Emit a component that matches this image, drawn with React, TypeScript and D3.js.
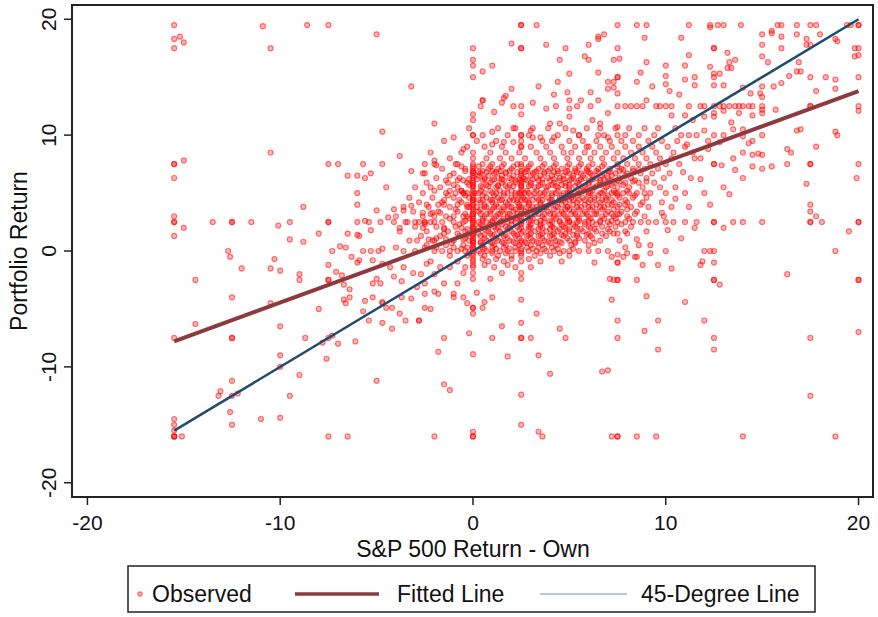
import React from "react";
import * as d3 from "d3";

const W = 878;
const H = 617;

const xTicks = [-20, -10, 0, 10, 20];
const yTicks = [-20, -10, 0, 10, 20];

// regression line and 45-degree reference, endpoints
const fittedX = [-15.5, 20];
const fittedY = [-7.8, 13.8];
const diagX = [-15.5, 20];
const diagY = [-15.5, 20];

// scattered observations outside the dense core
const sparsePoints: [number, number][] = [
  [-15.5, 19.5], [-15.2, 18.5], [-15.5, 18.3], [-15.0, 18.0], [-15.5, 17.5], [-10.9, 19.4], [-10.5, 17.5],
  [-8.6, 19.5], [-7.5, 19.5], [-10.5, 8.5], [-15.5, 7.5], [-15.5, 7.5], [-15.0, 7.8], [-15.5, 6.3],
  [-7.5, 7.5], [-7.0, 7.5], [-6.5, 6.5], [-6.0, 6.5], [-6.0, 5.0], [-6.0, 4.0], [-15.5, 3.0], [-15.5, 2.5],
  [-15.5, 2.5], [-15.0, 2.0], [-15.5, 1.3], [-13.5, 2.5], [-12.5, 2.5], [-12.5, 2.5], [-11.5, 2.5],
  [-10.1, 2.2], [-9.5, 2.5], [-8.8, 3.8], [-7.5, 2.5], [-7.5, 2.5], [-6.0, 2.5], [-8.0, 1.5], [-6.5, 1.5],
  [-6.0, 1.4], [-9.5, 1.0], [-8.8, 0.8], [-6.9, 0.4], [-6.6, 0.3], [-7.3, 0.0], [-6.3, -0.5], [-12.7, 0],
  [-12.6, -0.5], [-10.3, -0.7],
  [-12.0, -1.5], [-10.5, -1.5], [-10.0, -1.7], [-9.0, -2.0], [-9.0, -2.5], [-7.5, -1.2], [-7.5, -2.5],
  [-7.5, -2.5], [-7.1, -1.8], [-6.8, -2.1], [-6.7, -2.9], [-6.4, -3.3], [-6.7, -4.2], [-6.6, -4.5],
  [-6.4, -4.0], [-6.0, -1.0], [-14.4, -2.5], [-12.5, -4.0], [-10.5, -4.5], [-8.0, -5.0], [-14.4, -6.3],
  [-15.5, -7.5], [-12.5, -7.5], [-12.5, -7.5], [-10.0, -6.5], [-8.7, -7.5], [-7.5, -7.5], [-7.3, -7.3],
  [-7.8, -7.9], [-7.0, -8.0], [-6.1, -7.8], [-10.0, -9.0], [-7.6, -9.3], [-10.0, -10.0], [-9.0, -10.7],
  [-12.5, -11.2], [-13.1, -12.1], [-13.2, -12.5], [-12.5, -12.5], [-12.2, -12.3], [-9.5, -12.5],
  [-12.6, -13.9], [-15.5, -14.5], [-15.5, -15.0], [-12.5, -15.0], [-11.0, -14.5], [-10.0, -14.4],
  [-15.5, -15.5], [-15.5, -16], [-15.5, -16], [-15.5, -16], [-15.1, -16], [-7.5, -16], [-6.5, -16],
  [-5.0, 18.7], [-3.2, 14.2], [-4.7, 10.3], [-3.8, 8.2], [-2.0, 11.0], [2.5, 19.5], [2.5, 19.5], [3.3, 19.5],
  [2.5, 17.5], [2.5, 17.5], [2.0, 17.9], [3.8, 17.8], [4.8, 17.5], [4.5, 16.5], [5.0, 15.3], [6.0, 17.8],
  [5.8, 16.8], [6.0, 16.5], [6.5, 18.5], [6.5, 18.3], [6.8, 18.7], [7.5, 19.5], [7.5, 17.5], [7.6, 16.6],
  [0.0, 17.5], [0.0, 16.5], [0.0, 16.0], [0.0, 15.0], [0.5, 15.5], [1.0, 16.0], [2.0, 14.0], [1.6, 13.2],
  [1.5, 12.8], [1.7, 13.4], [0.5, 13.0], [0.5, 13.0], [0.4, 12.5], [1.1, 12.0], [0.0, 11.8], [0.0, 11.3],
  [2.1, 12.5], [2.5, 12.5], [2.5, 11.8], [3.1, 12.8], [3.4, 14.2], [4.2, 13.5], [4.4, 14.6], [4.9, 13.7],
  [5.0, 13.0], [3.8, 12.3], [4.3, 12.5], [5.0, 12.3], [5.0, 11.6], [4.0, 11.0], [4.5, 11.0], [5.4, 12.5],
  [5.6, 13.0], [6.1, 12.5], [6.1, 13.7], [6.5, 13.0], [7.0, 14.0], [7.3, 14.6], [7.5, 15.0], [6.5, 15.4],
  [7.5, 12.5], [7.0, 11.9], [6.2, 11.3], [6.6, 11.0], [7.5, 10.7], [2.1, 10.6], [2.5, 10.0], [2.5, 10.0],
  [3.0, 10.4], [3.1, 9.8], [0.0, 10.0], [0.0, 10.0], [1.0, 10.3], [1.0, 9.2], [1.6, 9.4], [2.1, 9.4],
  [2.5, 9.0], [3.5, 9.8], [4.2, 9.8], [5.2, 10.4], [5.5, 10.0], [5.5, 10.0], [6.0, 9.0], [6.5, 10.0],
  [7.0, 9.8], [7.5, 10.0], [-0.5, 8.8], [-1.0, 9.8], [-2.0, 7.8], [-1.9, 7.4], [-2.5, 7.5], [-2.5, 6.7],
  [-3.2, 6.9], [-0.9, 7.5], [-1.4, 6.1], [-0.8, 6.1], [-2.2, 5.5], [-4.7, 7.5], [-5.3, 6.7], [-5.7, 7.5],
  [-5.6, 6.3], [-4.5, 5.5], [-5.0, 3.5], [-4.1, 3.6], [-3.6, 3.5], [-3.2, 3.9], [-5.6, 2.6], [-5.4, 2.5],
  [-4.8, 2.5], [-4.4, 2.9], [-4.1, 2.5], [-3.8, 2.0], [-3.5, 2.5], [-3.0, 2.5], [-2.6, 3.3], [-2.5, 2.5],
  [-2.5, 2.5], [-2.1, 3.3], [-2.0, 2.5], [-1.7, 3.3], [-1.5, 4.4], [-0.9, 5.0], [-0.5, 5.0], [-5.9, 1.3],
  [-5.3, 1.8], [-4.0, 0.3], [-5.3, 0], [-4.9, 0], [-4.7, 0.2], [-5.7, 0], [-3.6, 0], [-3.0, 0], [-2.5, 0.3],
  [-2.9, 0.9], [-2.1, 0.9], [-1.5, 1.5], [-1.2, 0],
  [8.5, 19.5], [9.0, 19.5], [11.2, 19.5], [12.3, 19.5], [12.7, 19.5], [13.0, 19.5], [13.9, 19.5],
  [15.8, 19.5], [16.0, 19.5], [16.8, 19.5], [17.5, 19.5], [17.8, 19.5], [19.4, 19.5], [19.6, 19.5],
  [20, 19.5], [20, 19.5], [8.9, 18.4], [10.8, 18.4], [12.3, 19.3], [15.0, 18.7], [15.5, 19.0], [15.5, 18.8],
  [16.0, 18.5], [16.8, 18.7], [18.0, 18.7], [17.3, 18.3], [18.8, 18.3], [18.9, 18.1], [15.0, 17.8],
  [16.0, 17.5], [17.3, 17.8], [17.5, 17.8], [19.8, 17.5], [20.0, 17.5], [19.8, 16.8], [20.0, 16.9],
  [12.5, 17.5], [12.5, 17.5], [13.2, 17.1], [13.3, 16.3], [13.6, 16.5], [13.2, 15.8], [13.4, 15.8],
  [12.3, 15.9], [15.0, 16.8], [15.3, 16.3], [16.9, 16.3], [17.0, 15.5], [16.8, 15.5], [16.4, 15.1],
  [17.5, 15.0], [18.3, 15.0], [18.8, 14.8], [20.0, 15.0], [7.3, 16.5], [9.0, 16.3], [10.0, 16.0],
  [11.0, 16.0], [11.2, 16.9], [7.5, 15.0], [8.7, 15.4], [8.5, 14.6], [10.0, 15.1], [10.0, 14.4],
  [11.0, 14.8], [11.5, 15.0], [11.5, 14.3], [12.5, 15.3], [12.8, 15.3], [12.5, 15.0], [12.5, 14.3],
  [13.0, 14.3], [14.0, 14.1], [7.0, 14.6], [7.3, 14.1], [7.5, 13.6], [9.3, 14.2], [10.2, 13.8], [10.7, 13.5],
  [15.0, 14.2], [15.6, 14.2], [16.0, 14.5], [17.8, 13.8], [18.8, 14.0], [14.4, 13.6], [14.9, 13.6],
  [15.0, 13.3], [9.0, 13.0],
  [7.9, 12.5], [8.2, 12.5], [8.5, 12.5], [8.8, 12.5], [9.5, 12.5], [9.7, 12.5], [10.0, 12.5], [10.3, 12.5],
  [11.2, 12.5], [11.8, 12.5], [12.0, 12.5], [12.5, 12.5], [12.8, 12.5], [13.0, 12.5], [13.3, 12.5],
  [13.6, 12.5], [13.8, 12.5], [14.0, 12.5], [14.3, 12.5], [14.5, 12.5], [15.0, 12.5], [17.5, 12.5],
  [17.5, 12.5], [20.0, 12.5],
  [20.0, 12.1], [15.7, 12.2], [15.0, 12.2], [15.0, 11.9], [12.5, 11.9], [12.5, 11.6], [13.0, 12.1],
  [13.8, 11.9], [14.5, 11.7], [10.3, 11.7], [11.0, 11.7], [11.4, 11.3], [12.0, 11.6], [16.8, 10.4],
  [17.0, 10.5], [18.8, 10.3], [18.9, 10.0], [13.5, 10.5], [14.0, 10.5], [14.0, 9.9], [14.3, 9.3],
  [14.5, 9.5], [15.0, 10.0], [13.0, 10.0], [12.5, 10.0], [12.0, 10.4], [11.2, 10.0], [16.3, 8.8],
  [16.5, 8.5], [17.8, 9.0], [14.5, 8.3], [14.8, 8.4], [15.0, 8.3], [14.0, 8.5], [13.5, 8.0], [12.5, 7.5],
  [12.5, 7.5], [12.9, 7.4], [14.5, 7.3], [15.0, 7.1], [15.5, 7.3], [16.3, 7.5], [17.5, 7.5], [17.5, 7.5],
  [20.0, 7.5], [17.3, 5.8], [19.9, 6.3], [14.0, 6.3], [13.3, 4.9], [17.5, 4.0], [17.5, 3.4], [17.8, 3.0],
  [13.5, 2.5], [14.0, 2.5], [15.0, 2.5], [17.5, 2.5], [17.5, 2.5], [18.1, 2.5], [20.0, 2.5], [20.0, 2.5],
  [12.5, 2.5], [12.5, 2.5], [13.0, 2.0], [19.5, 1.7], [18.8, 0.0], [12.0, 0.0], [12.3, 0.0], [12.5, 0.0],
  [8.5, 1.0], [9.2, 0.5], [10.1, 1.8], [10.8, 1.1], [11.5, 2.0], [9.8, 3.3], [11.2, 3.8], [10.5, 4.5],
  [12.0, 5.0], [11.8, 6.2], [12.3, 4.0], [13.0, 5.5], [12.2, 8.8], [11.5, 8.0], [13.6, 7.0], [10.9, 6.8],
  [12.8, 9.4], [11.1, 9.2], [13.4, 11.1],
  [10.0, 0.0], [7.9, 0.3], [8.6, 0.5], [7.5, -0.3], [7.2, -0.5], [7.8, -0.5], [8.0, -0.2], [8.4, -0.5],
  [8.5, -0.5], [9.2, -0.2], [7.5, -1.0], [7.5, -1.0], [8.8, -1.2], [9.6, -1.2], [10.3, -1.5], [11.8, -1.2],
  [11.9, -0.9], [12.5, -1.0], [16.3, -2.0], [7.3, -2.5], [7.5, -2.5], [7.5, -2.5], [8.5, -2.5], [12.5, -2.5],
  [12.5, -2.5], [12.8, -2.9], [20, -2.5], [20, -2.5], [7.2, -4.2], [9.0, -3.9], [11.0, -4.4], [7.5, -6.0],
  [9.6, -6.0], [12.0, -6.0], [8.9, -6.9], [7.5, -7.5], [12.5, -7.5], [17.5, -7.5], [20.0, -7.0], [9.6, -8.5],
  [12.5, -8.5], [6.7, -10.4], [7.0, -10.3], [17.5, -12.5], [7.2, -16], [7.5, -16], [7.5, -16], [8.5, -16],
  [9.5, -16], [14.0, -16], [18.8, -16],
  [0, -4.9], [0, -4.9], [0, -5.4], [0, -8.9], [-0.2, -7.1], [0.5, -4.9], [-0.3, -4.5], [0.2, -3.6],
  [0.6, -4.4], [1.0, -4.0], [2.5, -4.2], [2.5, -6.2], [2.5, -7.5], [2.5, -7.5], [3.0, -7.5], [1.0, -7.5],
  [1.5, -6.5], [1.8, -9.1], [3.3, -5.4], [3.4, -9.0], [4.0, -10.6], [4.5, -6.7], [4.8, -7.5], [2.5, -12.4],
  [2.5, -15.0], [0, -15.6], [0, -16], [0, -16], [3.4, -15.6], [3.6, -16], [-2.0, -16], [-1.5, -7.5],
  [-1.8, -8.7], [-1.5, -11.5], [-1.2, -12.0], [-5.0, -11.2], [6.3, -1.0], [7.1, -2.4],
  [-5.6, -4.3], [-4.7, -4.4], [-4.7, -4.5], [-5.7, -5.2], [-5.4, -6.0], [-4.7, -6.2], [-4.2, -6.7],
  [-4.5, -4.9], [-4.2, -4.9], [-3.8, -5.4], [-3.5, -6.0], [-2.8, -6.0], [-2.8, -6.0], [-2.5, -4.9],
  [-2.2, -5.0], [-3.2, -4.1], [-3.7, -4.0], [-2.5, -3.7], [-2.0, -3.5], [-1.8, -3.7], [-1.0, -3.7],
  [-1.0, -4.0], [-0.5, -4.0], [-5.2, -4.0], [-5.2, -2.8], [-4.8, -2.8], [-5.0, -2.4], [-4.1, -2.2],
  [-3.7, -2.6], [-2.9, -3.1], [-2.7, -2.0], [-2.5, -2.8], [-2.0, -2.0], [-2.4, -1.1], [-3.1, -1.9],
  [-3.6, -1.4], [-4.3, -1.4], [-4.7, -1.1], [-5.2, -0.8], [-5.9, -0.8], [-1.7, -1.4], [-1.2, -1.4],
  [-1.5, -2.8], [-0.5, -1.9], [-0.8, -2.8],
];

// the fringes just left and right of the solid centre
const shoulderPoints: [number, number][] = [
  [-2.0, 5.2], [-1.2, 5.2], [-0.6, 5.2], [-2.4, 4.0], [-1.5, 4.0], [-0.8, 4.0], [-2.0, 3.0], [-1.0, 3.0],
  [-0.3, 3.0], [-2.6, 2.0], [-1.5, 2.0], [-0.6, 2.0], [-2.3, 1.0], [-1.4, 1.0], [-0.5, 1.0], [-1.9, 0.3],
  [-1.0, 0.3], [7.8, 7.0], [8.6, 7.0], [7.6, 6.0], [8.3, 6.0], [9.0, 6.0], [7.4, 5.0], [8.1, 5.0], [8.9, 5.0],
  [7.2, 4.0], [7.9, 4.0], [8.7, 4.0], [7.6, 3.2], [8.4, 3.2], [7.3, 1.5], [8.0, 1.5],
];

// body of the cloud, row by row (y value, then the x values in that row)
const coreRowY = [
  10.6, 10.0, 9.5, 9.0, 8.5, 8.0, 7.5, 7.1, 6.7, 6.3, 5.9, 5.5, 5.0, 4.6, 4.2, 3.8, 3.4, 3.0, 2.5, 2.1,
  1.7, 1.3, 0.9, 0.5, 0.0, -0.4, -0.9, -1.4, -1.9, -2.4,
];
const coreRowX = [
  [-0.2, 1.3, 2.2, 3.1, 3.9, 4.8, 5.9, 6.6, 7.4, 8.1, 8.9, 9.6, 10.5],
  [0.5, 1.8, 2.9, 4.4, 6.8, 7.9, 8.6, 9.4, 10.8, 11.6],
  [-1.5, 0.2, 1.2, 2.5, 3.6, 4.1, 5.0, 5.7, 6.4, 7.1, 7.7, 8.3, 9.1, 9.8, 10.6, 12.2],
  [-0.3, 0.6, 1.5, 2.5, 3.0, 3.8, 4.6, 5.3, 5.9, 6.6, 7.2, 7.9, 8.6, 9.3, 10.1, 11.0],
  [-2.2, -0.6, 0.0, 0.9, 1.7, 2.4, 3.3, 4.0, 4.7, 5.1, 5.8, 6.3, 6.9, 7.5, 8.2, 8.8, 9.5, 10.4, 11.4],
  [-1.2, 0.0, 0.7, 1.4, 2.0, 2.7, 3.5, 4.2, 4.9, 5.5, 6.1, 6.7, 7.3, 7.8, 8.4, 9.0, 9.7, 10.3, 11.8],
  [-2.0, -0.8, 0.0, 0.5, 1.0, 1.6, 2.3, 2.5, 3.0, 3.7, 4.3, 5.0, 5.6, 6.2, 6.8, 7.5, 8.0, 8.6, 9.2, 10.0, 10.7],
  [-1.6, -0.4, 0.0, 0.8, 1.3, 2.0, 2.8, 3.4, 4.0, 4.6, 5.3, 5.9, 6.5, 7.1, 7.7, 8.3, 8.9, 9.6],
  [-2.6, -1.0, 0.0, 0.4, 1.1, 1.7, 2.5, 3.1, 3.7, 4.4, 5.0, 5.6, 6.1, 6.8, 7.4, 8.0, 8.7, 9.3, 10.2],
  [-1.9, -0.7, 0.0, 0.6, 1.3, 1.9, 2.6, 3.3, 3.9, 4.5, 5.2, 5.8, 6.4, 7.0, 7.6, 8.2, 9.0, 9.9, 11.3],
  [-2.4, -1.3, -0.3, 0.0, 0.9, 1.5, 2.2, 2.5, 3.0, 3.6, 4.2, 4.8, 5.4, 6.0, 6.6, 7.3, 7.9, 8.6, 9.4],
  [-3.0, -1.7, -0.8, 0.0, 0.5, 1.2, 1.8, 2.5, 3.2, 3.8, 4.4, 5.0, 5.7, 6.3, 6.9, 7.5, 8.1, 8.8, 9.7, 10.5],
  [-2.6, -1.4, -0.5, 0.0, 0.3, 1.0, 1.6, 2.2, 2.5, 2.9, 3.5, 4.1, 4.7, 5.0, 5.3, 6.0, 6.6, 7.2, 7.5, 7.8, 8.5, 9.2, 10.0, 11.0],
  [-3.3, -2.1, -1.0, -0.2, 0.0, 0.7, 1.3, 2.0, 2.6, 3.3, 3.9, 4.5, 5.1, 5.7, 6.3, 6.9, 7.6, 8.3, 9.0],
  [-2.8, -1.6, -0.6, 0.0, 0.4, 1.0, 1.7, 2.3, 2.9, 3.5, 4.1, 4.8, 5.4, 6.0, 6.6, 7.3, 8.0, 8.8, 9.8],
  [-3.6, -2.3, -1.2, -0.3, 0.0, 0.6, 1.3, 1.9, 2.5, 3.1, 3.7, 4.3, 4.9, 5.6, 6.2, 6.8, 7.5, 8.2, 9.1, 10.3],
  [-3.1, -1.8, -0.8, 0.0, 0.3, 0.9, 1.5, 2.1, 2.7, 3.3, 3.9, 4.6, 5.2, 5.8, 6.4, 7.0, 7.7, 8.5],
  [-4.0, -2.6, -1.4, -0.5, 0.0, 0.6, 1.2, 1.8, 2.4, 3.0, 3.6, 4.2, 4.8, 5.4, 6.0, 6.7, 7.3, 8.0, 8.9, 9.9],
  [-3.4, -2.8, -2.2, -1.6, -1.0, -0.5, 0.0, 0.3, 0.7, 1.0, 1.4, 1.8, 2.2, 2.5, 2.9, 3.3, 3.7, 4.1, 4.5, 4.9, 5.0, 5.4, 5.8, 6.2, 6.6, 7.0, 7.5, 7.9, 8.3, 8.7, 9.1, 9.5, 10.0, 10.4, 11.0, 11.6],
  [-3.0, -1.9, -0.9, 0.0, 0.5, 1.1, 1.7, 2.3, 2.9, 3.5, 4.1, 4.7, 5.3, 6.0, 6.7, 7.4, 8.2],
  [-3.8, -2.4, -1.3, -0.4, 0.0, 0.8, 1.4, 2.0, 2.6, 3.2, 3.8, 4.4, 5.0, 5.7, 6.4, 7.1, 7.9, 9.0],
  [-2.7, -1.7, -0.7, 0.0, 0.4, 1.0, 1.6, 2.2, 2.8, 3.4, 4.0, 4.7, 5.4, 6.1, 6.9],
  [-3.3, -2.0, -1.0, -0.2, 0.0, 0.7, 1.3, 1.9, 2.5, 3.1, 3.7, 4.3, 5.0, 5.8, 6.6, 7.6],
  [-2.4, -1.4, -0.5, 0.0, 0.5, 1.1, 1.7, 2.4, 3.0, 3.6, 4.3, 5.1, 6.0],
  [-2.0, -1.6, -0.8, -0.4, 0.0, 0.3, 0.7, 1.0, 1.4, 1.8, 2.2, 2.5, 2.9, 3.3, 3.8, 4.2, 4.7, 5.0, 5.5, 6.0, 6.5, 7.0],
  [-1.2, -0.3, 0.0, 0.6, 1.3, 2.0, 2.5, 3.2, 4.0, 5.0],
  [-2.2, -0.8, 0.0, 0.8, 1.6, 2.5, 3.5, 4.6],
  [-0.4, 0.0, 1.1, 2.2, 3.0],
  [0.0, 1.5, 2.5],
  [0.0, 0.9, 2.5],
];

// the solid centre of the cloud, offset rows that overlap the ones above
const denseRowY = [
  7.3, 6.9, 6.5, 6.1, 5.7, 5.2, 4.8, 4.4, 4.0, 3.6, 3.2, 2.8, 2.3, 1.9, 1.5, 1.1, 0.7, 0.2, -0.2, -0.7, -1.2,
];
const denseRowX = [
  [-0.6, 0.0, 0.3, 0.9, 1.5, 2.1, 2.5, 2.9, 3.6, 4.2, 4.9, 5.5, 6.0, 6.7, 7.5],
  [-0.4, 0.0, 0.5, 1.0, 1.4, 1.9, 2.5, 2.8, 3.3, 3.9, 4.4, 4.9, 5.3, 5.9, 6.4, 7.0, 7.6, 8.3],
  [-1.2, 0.0, 0.3, 0.8, 1.5, 2.1, 2.5, 3.0, 3.5, 4.1, 4.7, 5.2, 5.7, 6.2, 6.7, 7.2, 7.9],
  [-0.5, 0.0, 0.5, 1.0, 1.6, 2.2, 2.5, 2.8, 3.4, 4.0, 4.5, 5.0, 5.5, 6.1, 6.6, 7.1, 7.5, 8.4],
  [-1.0, -0.2, 0.0, 0.7, 1.3, 1.9, 2.5, 3.0, 3.5, 4.1, 4.6, 5.0, 5.5, 6.0, 6.6, 7.2, 7.8],
  [-0.6, 0.0, 0.4, 0.9, 1.4, 2.0, 2.5, 2.8, 3.3, 3.8, 4.4, 5.0, 5.6, 6.2, 6.8, 7.3, 8.0],
  [-1.3, -0.4, 0.0, 0.5, 1.1, 1.6, 2.2, 2.5, 3.0, 3.6, 4.1, 4.6, 5.0, 5.4, 6.0, 6.5, 7.0, 7.5, 8.4],
  [-0.7, 0.0, 0.3, 0.9, 1.5, 2.1, 2.5, 2.8, 3.4, 4.0, 4.5, 5.0, 5.5, 6.1, 6.7, 7.2, 7.9],
  [-1.8, -0.3, 0.0, 0.6, 1.2, 1.8, 2.4, 2.9, 3.5, 4.0, 4.6, 5.2, 5.8, 6.4, 7.0, 7.6],
  [-0.9, 0.0, 0.4, 1.0, 1.6, 2.2, 2.5, 3.0, 3.6, 4.2, 4.8, 5.0, 5.5, 6.1, 6.7, 7.3, 8.0],
  [-2.2, -0.4, 0.0, 0.7, 1.3, 1.9, 2.5, 2.8, 3.4, 4.0, 4.5, 5.1, 5.7, 6.3, 6.9, 7.5],
  [-1.2, -0.2, 0.0, 0.5, 1.1, 1.6, 2.2, 2.5, 3.1, 3.7, 4.3, 4.9, 5.5, 6.1, 6.8, 7.4, 8.1],
  [-2.5, -0.7, 0.0, 0.4, 0.9, 1.5, 2.0, 2.5, 3.0, 3.5, 4.0, 4.6, 5.2, 5.8, 6.4, 7.1, 7.7],
  [-1.5, -0.3, 0.0, 0.6, 1.2, 1.8, 2.4, 2.9, 3.4, 4.0, 4.5, 5.0, 5.6, 6.3, 7.0],
  [-0.8, 0.0, 0.3, 0.9, 1.5, 2.1, 2.5, 3.0, 3.6, 4.2, 4.8, 5.4, 6.0, 6.7, 7.5],
  [-1.9, -0.4, 0.0, 0.6, 1.2, 1.8, 2.4, 3.0, 3.6, 4.2, 4.9, 5.5, 6.2],
  [-1.1, 0.0, 0.4, 1.0, 1.6, 2.2, 2.5, 2.8, 3.4, 4.0, 4.6, 5.3, 6.3],
  [-0.6, 0.0, 0.6, 1.2, 1.9, 2.5, 3.1, 3.7, 4.4, 5.2],
  [-0.2, 0.0, 0.4, 1.0, 1.7, 2.5, 3.5, 4.5],
  [0.0, 0.5, 1.2, 2.0, 2.9],
  [0.0, 0.6, 1.8],
];

// innermost, most crowded part of the cloud
const centreRowY = [6.8, 6.2, 5.6, 5.0, 4.4, 3.8, 3.2, 2.6, 2.0, 1.4, 0.8, 0.3];
const centreRowX = [
  [0.0, 0.3, 0.7, 1.2, 1.7, 2.3, 2.7, 3.2, 3.7, 4.2, 4.8, 5.4, 6.0, 6.5, 7.1],
  [-0.2, 0.2, 0.6, 1.1, 1.5, 2.0, 2.4, 2.7, 3.1, 3.6, 4.2, 4.7, 5.1, 5.6, 6.2, 6.8],
  [0.0, 0.4, 0.8, 1.3, 1.7, 2.1, 2.5, 2.9, 3.4, 3.9, 4.3, 4.8, 5.3, 5.8, 6.4, 7.0],
  [-0.3, 0.1, 0.6, 1.2, 1.8, 2.4, 2.7, 3.2, 3.7, 4.3, 4.9, 5.5, 6.1, 6.7],
  [0.0, 0.5, 1.0, 1.4, 1.9, 2.3, 2.7, 3.1, 3.6, 4.1, 4.7, 5.2, 5.8, 6.3, 6.9],
  [-0.2, 0.2, 0.7, 1.1, 1.6, 2.0, 2.4, 2.8, 3.3, 3.8, 4.4, 4.9, 5.4, 6.0, 6.6],
  [0.0, 0.4, 0.9, 1.4, 1.8, 2.3, 2.7, 3.2, 3.7, 4.2, 4.7, 5.3, 5.9, 6.4, 7.2],
  [-0.4, 0.0, 0.5, 1.0, 1.5, 2.0, 2.5, 3.0, 3.5, 4.0, 4.5, 5.0, 5.5, 6.0, 6.6, 7.2],
  [0.0, 0.3, 0.8, 1.3, 1.9, 2.5, 3.0, 3.6, 4.2, 4.8, 5.4, 6.1],
  [-0.3, 0.0, 0.6, 1.1, 1.7, 2.3, 2.9, 3.5, 4.1, 4.6, 5.2, 5.9],
  [0.0, 0.4, 0.9, 1.5, 2.1, 2.7, 3.3, 3.9, 4.5, 5.3],
  [-0.3, 0.0, 0.5, 1.0, 1.6, 2.2, 2.8, 3.4, 4.1],
];

const FONT = "'Liberation Sans', Arial, Helvetica, sans-serif";
const DOT_FILL = "rgba(255,0,0,0.28)";
const DOT_STROKE = "rgba(255,0,0,0.52)";
const FIT_COLOR = "#8b3a3e";
const DIAG_COLOR = "#1f4b70";

const rowsToPoints = (ys: number[], xs: number[][]): [number, number][] =>
  ys.flatMap((yy, i) => xs[i].map(xx => [xx, yy] as [number, number]));

export default function App() {
  const x = d3.scaleLinear().domain([-20.8, 20.75]).range([72, 873]);
  const y = d3.scaleLinear().domain([-21.23, 21.23]).range([497, 5]);

  const allPoints = [
    ...rowsToPoints(coreRowY, coreRowX),
    ...rowsToPoints(denseRowY, denseRowX),
    ...rowsToPoints(centreRowY, centreRowX),
    ...shoulderPoints,
    ...sparsePoints,
  ];

  const seg = d3.line<[number, number]>().x(d => x(d[0])).y(d => y(d[1]));
  const fitPath = seg(fittedX.map((v, i) => [v, fittedY[i]] as [number, number]));
  const diagPath = seg(diagX.map((v, i) => [v, diagY[i]] as [number, number]));

  const [x0, x1] = x.range();
  const [y0, y1] = y.range();

  return (
    <svg width={W} height={H} style={{ position: "absolute", left: 0, top: 0, background: "#fff" }} fontFamily={FONT}>
      <rect x={0} y={0} width={W} height={H} fill="#fff" />
      {/* points */}
      <g>
        {allPoints.map((p, i) => (
          <circle key={i} cx={x(p[0])} cy={y(p[1])} r={2.5} fill={DOT_FILL} stroke={DOT_STROKE} strokeWidth={1.2} />
        ))}
      </g>
      <path d={fitPath ?? ""} fill="none" stroke={FIT_COLOR} strokeWidth={4} />
      <path d={diagPath ?? ""} fill="none" stroke={DIAG_COLOR} strokeWidth={2.5} />

      {/* frame */}
      <rect x={x0} y={y1} width={x1 - x0} height={y0 - y1} fill="none" stroke="#222" strokeWidth={2} />

      {/* x axis */}
      {xTicks.map(t => (
        <g key={"x" + t}>
          <line x1={x(t)} x2={x(t)} y1={y0} y2={y0 + 8} stroke="#222" strokeWidth={1.5} />
          <text x={x(t)} y={530} textAnchor="middle" fontSize={21} fill="#111">{t}</text>
        </g>
      ))}
      <text x={x(0)} y={557} textAnchor="middle" fontSize={23} fill="#111">S&amp;P 500 Return - Own</text>

      {/* y axis */}
      {yTicks.map(t => (
        <g key={"y" + t}>
          <line x1={x0 - 8} x2={x0} y1={y(t)} y2={y(t)} stroke="#222" strokeWidth={1.5} />
          <text x={56} y={y(t)} transform={`rotate(-90, 56, ${y(t)})`} textAnchor="middle" fontSize={21} fill="#111">{t}</text>
        </g>
      ))}
      <text x={27} y={y(0)} transform={`rotate(-90, 27, ${y(0)})`} textAnchor="middle" fontSize={23} fill="#111">Portfolio Return</text>

      {/* legend */}
      <rect x={128} y={566} width={687} height={46} fill="#fff" stroke="#222" strokeWidth={1.5} />
      <circle cx={140} cy={594} r={2.2} fill={DOT_FILL} stroke={DOT_STROKE} strokeWidth={1.2} />
      <text x={152} y={602} fontSize={23} fill="#111">Observed</text>
      <line x1={295} x2={379} y1={594} y2={594} stroke={FIT_COLOR} strokeWidth={3.5} />
      <text x={397} y={602} fontSize={23} fill="#111">Fitted Line</text>
      <line x1={540} x2={627} y1={594} y2={594} stroke="#b8c7d6" strokeWidth={2} />
      <text x={641} y={602} fontSize={23} fill="#111">45-Degree Line</text>
    </svg>
  );
}
